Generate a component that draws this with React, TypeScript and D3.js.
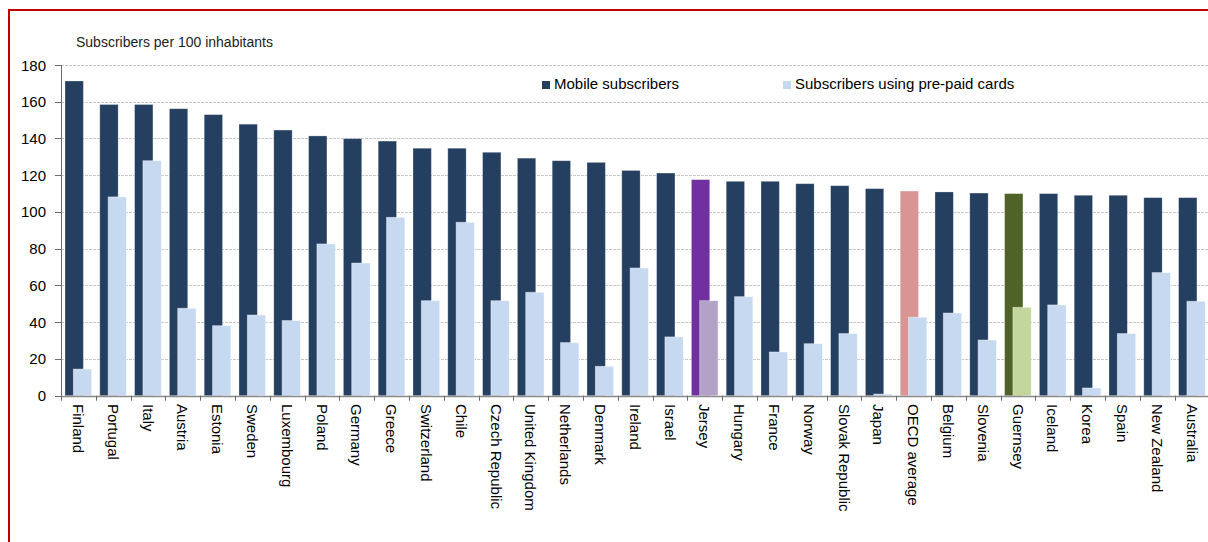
import React from "react";
import * as d3 from "d3";

const categories = [
  "Finland", "Portugal", "Italy", "Austria", "Estonia", "Sweden", "Luxembourg",
  "Poland", "Germany", "Greece", "Switzerland", "Chile", "Czech Republic",
  "United Kingdom", "Netherlands", "Denmark", "Ireland", "Israel", "Jersey",
  "Hungary", "France", "Norway", "Slovak Republic", "Japan", "OECD average",
  "Belgium", "Slovenia", "Guernsey", "Iceland", "Korea", "Spain", "New Zealand",
  "Australia",
];

const mobileSubscribers = [
  171.3, 158.5, 158.5, 156.2, 153.0, 147.8, 144.6,
  141.4, 139.9, 138.6, 134.7, 134.7, 132.5,
  129.3, 127.9, 127.0, 122.6, 121.2, 117.6,
  116.7, 116.7, 115.4, 114.3, 112.7, 111.4,
  110.9, 110.3, 110.0, 110.0, 109.1, 109.1, 107.8,
  107.8,
];

const prepaidSubscribers = [
  14.5, 108.2, 127.9, 47.6, 38.1, 43.9, 40.9,
  82.6, 72.2, 97.1, 51.7, 94.4, 51.7,
  56.3, 28.9, 16.0, 69.5, 32.0, 51.7,
  53.9, 23.8, 28.3, 33.8, 0.9, 42.7,
  45.0, 30.3, 48.1, 49.4, 4.2, 33.8, 67.0,
  51.4,
];

const yTicks = [0, 20, 40, 60, 80, 100, 120, 140, 160, 180];

const legendLabels = ["Mobile subscribers", "Subscribers using pre-paid cards"];
const axisTitle = "Subscribers per 100 inhabitants";

const DARK = "#253F60";
const LIGHT = "#C6D9F0";
const highlightDark: Record<string, string> = {
  Jersey: "#7030A0",
  "OECD average": "#D99594",
  Guernsey: "#4F6228",
};
const highlightLight: Record<string, string> = {
  Jersey: "#B3A2C7",
  Guernsey: "#C3D69B",
};

const FONT = "'Liberation Sans', Arial, sans-serif";

export default function App() {
  const W = 1208;
  const H = 542;
  const x = d3.scaleBand<string>().domain(categories).range([61, 1209.4]).padding(0);
  const y = d3.scaleLinear().domain([0, 180]).range([395.7, 65]);
  const bw = x.bandwidth();
  const barW = bw * 0.527;

  return (
    <svg
      width={W}
      height={H}
      style={{ position: "absolute", left: 0, top: 0, background: "#fff" }}
      fontFamily={FONT}
    >
      <rect x={0} y={0} width={W} height={H} fill="#fff" />
      {/* red frame */}
      <path d={`M9,${H + 5} V10 H${W + 5}`} fill="none" stroke="#C00000" strokeWidth={2} />

      {/* gridlines */}
      {yTicks.filter((t) => t > 0).map((t) => (
        <line
          key={"g" + t}
          x1={61}
          x2={1209}
          y1={Math.round(y(t)) + 0.5}
          y2={Math.round(y(t)) + 0.5}
          stroke="#C8C8C8"
          strokeWidth={1}
          strokeDasharray="3,1"
        />
      ))}

      {/* bars */}
      {categories.map((c, i) => {
        const x0 = x(c) as number;
        return (
          <g key={c}>
            <rect
              x={x0 + bw * 0.115}
              y={y(mobileSubscribers[i])}
              width={barW}
              height={y(0) - y(mobileSubscribers[i])}
              fill={highlightDark[c] || DARK}
              stroke="#ffffff"
              strokeOpacity={0.35}
              strokeWidth={0.8}
            />
            <rect
              x={x0 + bw * 0.354}
              y={y(prepaidSubscribers[i])}
              width={barW}
              height={y(0) - y(prepaidSubscribers[i])}
              fill={highlightLight[c] || LIGHT}
              stroke="#ffffff"
              strokeOpacity={0.5}
              strokeWidth={0.8}
            />
          </g>
        );
      })}

      {/* y axis */}
      <line x1={61.5} x2={61.5} y1={y(180)} y2={y(0)} stroke="#6b6b6b" strokeWidth={1} />
      {yTicks.map((t) => (
        <g key={"t" + t}>
          <line x1={55} x2={61} y1={Math.round(y(t)) + 0.5} y2={Math.round(y(t)) + 0.5} stroke="#6b6b6b" />
          <text
            x={46}
            y={y(t)}
            textAnchor="end"
            dominantBaseline="central"
            fontSize={15}
            fill="#000"
          >
            {t}
          </text>
        </g>
      ))}

      {/* x axis */}
      <line x1={61} x2={1209} y1={Math.round(y(0)) + 0.5} y2={Math.round(y(0)) + 0.5} stroke="#8a8a8a" strokeWidth={1.5} />
      {categories.map((c) => {
        const xx = Math.round(x(c) as number) + 0.5;
        return <line key={"xt" + c} x1={xx} x2={xx} y1={y(0)} y2={y(0) + 5} stroke="#6b6b6b" />;
      })}
      {categories.map((c) => {
        const cx = (x(c) as number) + bw / 2;
        return (
          <text
            key={"xl" + c}
            transform={`translate(${cx},404) rotate(90)`}
            textAnchor="start"
            dominantBaseline="central"
            fontSize={15}
            fill="#000"
          >
            {c}
          </text>
        );
      })}

      {/* axis title */}
      <text x={76} y={47} fontSize={14} fill="#222">
        {axisTitle}
      </text>

      {/* legend */}
      <rect x={542} y={81} width={8} height={8} fill={DARK} />
      <text x={554} y={89} fontSize={15} fill="#000">
        {legendLabels[0]}
      </text>
      <rect x={783} y={81} width={8} height={8} fill={LIGHT} />
      <text x={795} y={89} fontSize={15} fill="#000">
        {legendLabels[1]}
      </text>
    </svg>
  );
}
